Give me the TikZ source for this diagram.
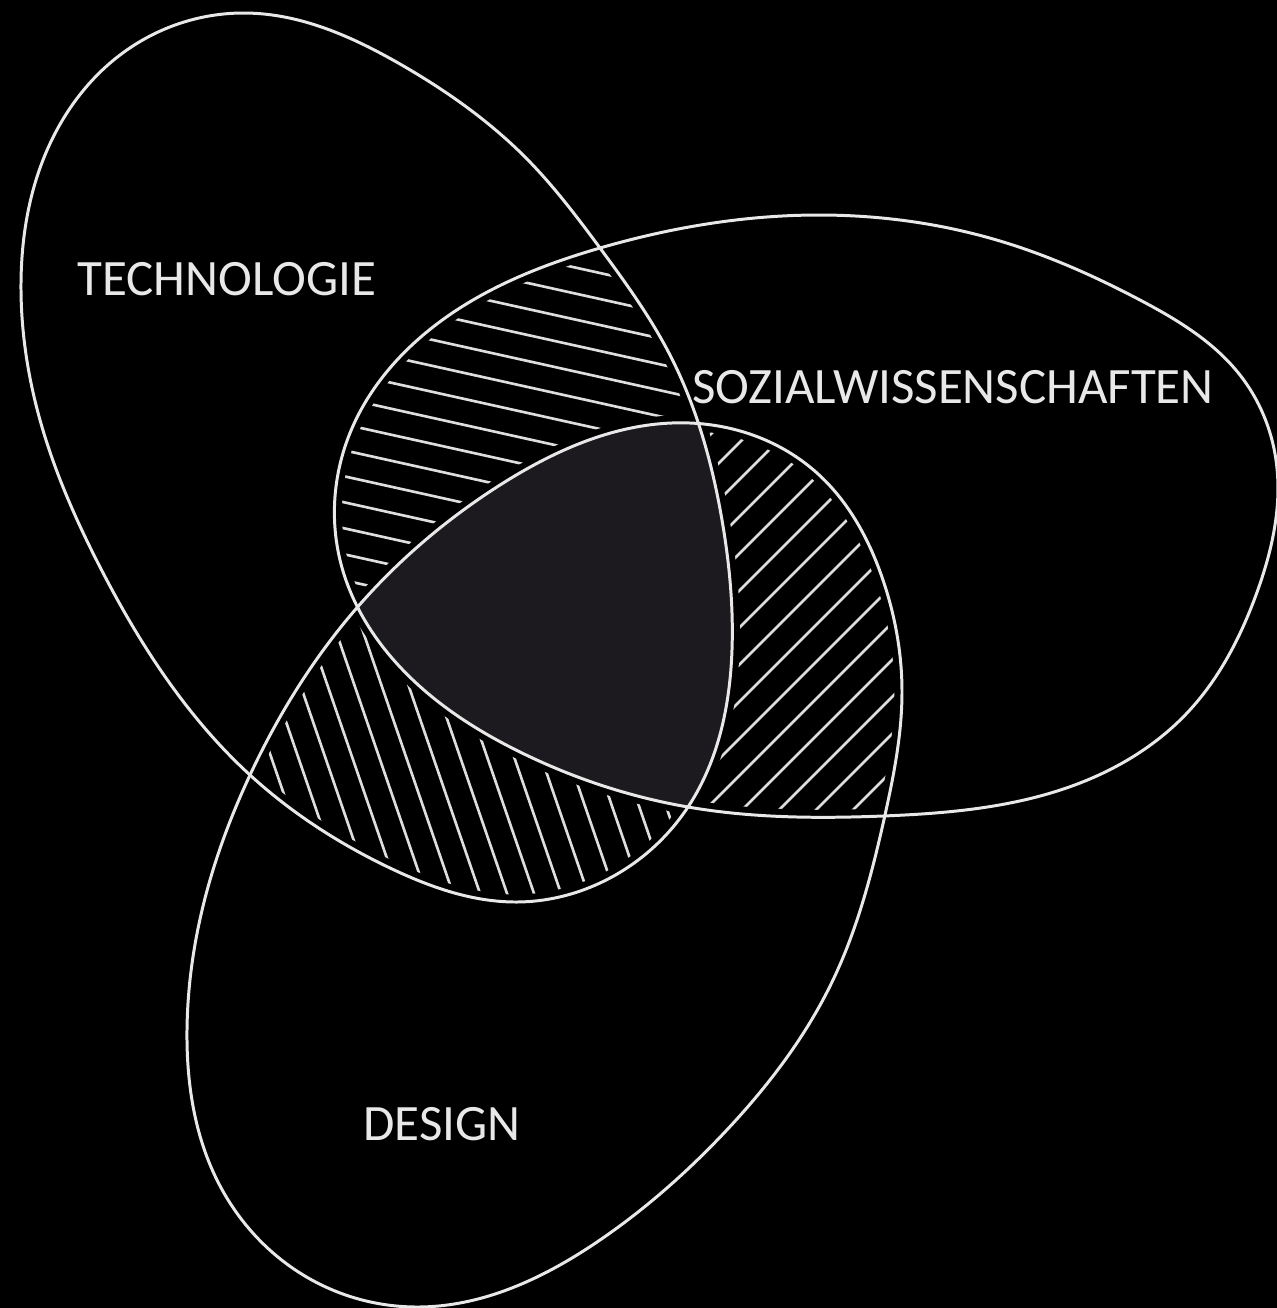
\documentclass[tikz,border=0pt]{standalone}
\usepackage{fontspec}
\setmainfont{Carlito}
\usepackage{tikz}
\usetikzlibrary{hobby}
\definecolor{ringwhite}{RGB}{232,232,232}
\definecolor{hatchwhite}{RGB}{222,222,222}
\definecolor{coregrey}{RGB}{28,26,30}

% outlines of the three sets (pixel units, y downwards)
\def\shapeT{plot[closed hobby] coordinates {(245,13) (400,64) (528,160) (600,248) (670,355) (722,520) (732,650) (688,807) (600,883) (517,902) (390,868) (250,775) (100,567) (40,420) (21,283) (45,155) (120,55)}}
\def\shapeS{plot[closed hobby] coordinates {(600,248) (817,215) (1000,241) (1140,300) (1240,375) (1276,460) (1256,595) (1188,712) (1080,783) (883,816) (688,807) (520,752) (400,667) (340,560) (350,433) (433,327)}}
\def\shapeD{plot[closed hobby] coordinates {(500,485) (690,423) (817,473) (883,580) (902,690) (885,815) (833,980) (724,1133) (600,1240) (417,1307) (300,1273) (217,1180) (187,1030) (210,880) (250,775) (355,610)}}

\begin{document}
\begin{tikzpicture}[x=0.01cm, y=-0.01cm,
    ring/.style={draw=ringwhite, line width=0.85pt},
    gapline/.style={draw=black, line width=0.15cm},
    hatchline/.style={draw=hatchwhite, line width=0.75pt, line cap=round},
    setname/.style={text=ringwhite, font=\fontsize{14.5}{17}\selectfont, anchor=base}
]
    \fill[black] (0,0) rectangle (1277,1308);
    \useasboundingbox (0,0) rectangle (1277,1308);

    % technology and social sciences
    \begin{scope}
        \clip \shapeT;
        \clip \shapeS;
        \foreach \c in {88,114,...,560}
            \draw[hatchline] (300,\c+66.5) -- (760,\c+168.5);
    \end{scope}
    % social sciences and design
    \begin{scope}
        \clip \shapeS;
        \clip \shapeD;
        \foreach \s in {1108,1145,...,1740}
            \draw[hatchline] (600,\s-600) -- (960,\s-960);
    \end{scope}
    % technology and design
    \begin{scope}
        \clip \shapeT;
        \clip \shapeD;
        \foreach \t in {-17,10,...,440}
            \draw[hatchline] (\t+190,550) -- (\t+324,940);
    \end{scope}

    \path[gapline] \shapeT;
    \path[gapline] \shapeS;
    \path[gapline] \shapeD;

    % common core
    \begin{scope}
        \clip \shapeT;
        \clip \shapeS;
        \fill[coregrey] \shapeD;
    \end{scope}

    \path[ring] \shapeT;
    \path[ring] \shapeS;
    \path[ring] \shapeD;

    \node[setname] (tech) at (227,295) {TECHNOLOGIE};
    \node[setname] (sozial) at (953,403) {SOZIALWISSENSCHAFTEN};
    \node[setname] (design) at (442,1140) {DESIGN};
\end{tikzpicture}
\end{document}
